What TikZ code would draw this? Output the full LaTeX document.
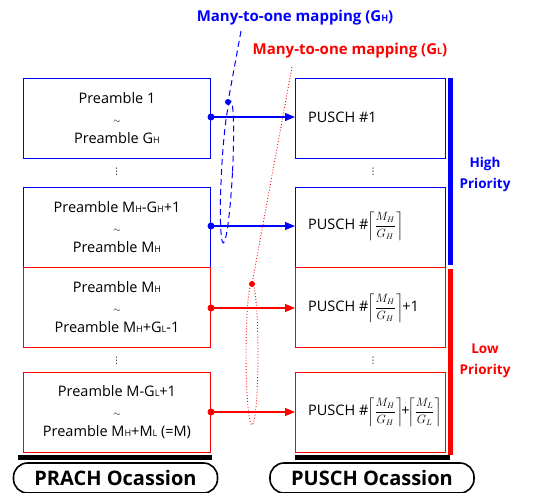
\documentclass[tikz,border=0pt]{standalone}
\usepackage{fontspec}
\setmainfont{Open Sans}
\newfontfamily\symfont{DejaVu Sans}
\usepackage{amsmath}
\usetikzlibrary{arrows.meta}
\definecolor{hiblue}{RGB}{0,0,255}
\definecolor{lored}{RGB}{255,0,0}
\newcommand{\sbs}[1]{{\fontsize{9}{9}\selectfont #1}}
\newcommand{\frc}[2]{{\fontsize{11.5}{11.5}\selectfont$\left\lceil\dfrac{#1}{#2}\right\rceil$}}
\newcommand{\vdt}{{\symfont ⋮}}
\newcommand{\tld}{{\small$\sim$}}
\begin{document}
\begin{tikzpicture}[x=1pt,y=-1pt,
  prbox/.style={draw,line width=1pt,minimum width=187pt,minimum height=80pt,anchor=north west,align=center,font=\fontsize{14.5}{20}\selectfont,inner sep=0pt},
  pubox/.style={draw,line width=1pt,minimum width=150pt,minimum height=80pt,anchor=north west,inner sep=0pt},
  putext/.style={anchor=west,font=\fontsize{14.5}{16}\selectfont,inner sep=0pt},
  vdots/.style={font=\fontsize{9}{9}\selectfont,inner sep=0pt},
  maparrow/.style={line width=1.2pt,-{Triangle[length=10pt,width=8pt]}},
  tipdot/.style={circle,fill,inner sep=0pt,minimum size=7pt},
  occ/.style={draw,line width=1.6pt,rounded corners=14pt,minimum height=30pt,font=\fontsize{20}{22}\selectfont\bfseries,inner sep=0pt},
  prio/.style={font=\fontsize{13.5}{21}\selectfont\bfseries,align=center,inner sep=0pt},
  maptitle/.style={font=\fontsize{15}{18}\selectfont\bfseries,inner sep=1pt}]
\useasboundingbox (0,0) rectangle (547,493);

% PRACH side: preamble groups
\node[prbox,hiblue] (p1) at (23,78) {\color{black}Preamble 1\\\color{black}\tld\\\color{black}Preamble G\sbs{H}};
\node[vdots] (d1) at (116.5,172) {\vdt};
\node[prbox,hiblue] (p2) at (23,187) {\color{black}Preamble M\sbs{H}-G\sbs{H}+1\\\color{black}\tld\\\color{black}Preamble M\sbs{H}};
\node[prbox,lored] (p3) at (23,267) {\color{black}Preamble M\sbs{H}\\\color{black}\tld\\\color{black}Preamble M\sbs{H}+G\sbs{L}-1};
\node[vdots] (d2) at (116.5,361) {\vdt};
\node[prbox,lored] (p4) at (23,372) {\color{black}Preamble M-G\sbs{L}+1\\\color{black}\tld\\\color{black}Preamble M\sbs{H}+M\sbs{L} (=M)};

% PUSCH side: occasions
\node[pubox,hiblue] (u1) at (295,78) {};
\node[putext] (t1) at (308,117) {PUSCH \#1};
\node[vdots] (e1) at (373,172) {\vdt};
\node[pubox,hiblue] (u2) at (295,187) {};
\node[putext] (t2) at (308,226) {PUSCH \#\kern-1pt\frc{M_H}{G_H}};
\node[pubox,lored] (u3) at (295,267) {};
\node[putext] (t3) at (308,308) {PUSCH \#\kern-1pt\frc{M_H}{G_H}\kern-1pt+1};
\node[vdots] (e2) at (373,361) {\vdt};
\node[pubox,lored] (u4) at (295,372) {};
\node[putext] (t4) at (308,412) {PUSCH \#\kern-1pt\frc{M_H}{G_H}\kern-2pt+\kern-2pt\frc{M_L}{G_L}};

% mapping arrows
\coordinate (a1) at (p1.east |- 0,117);
\coordinate (a2) at (p2.east |- 0,226);
\coordinate (a3) at (p3.east |- 0,308);
\coordinate (a4) at (p4.east |- 0,412);
\draw[maparrow,hiblue] (a1) -- (u1.west |- a1);
\draw[maparrow,hiblue] (a2) -- (u2.west |- a2);
\draw[maparrow,lored] (a3) -- (u3.west |- a3);
\draw[maparrow,lored] (a4) -- (u4.west |- a4);
\node[tipdot,hiblue] at (a1) {};
\node[tipdot,hiblue] at (a2) {};
\node[tipdot,lored] at (a3) {};
\node[tipdot,lored] at (a4) {};

% grouping ellipses with their labels
\node[maptitle,text=hiblue] (gh) at (295,18) {Many-to-one mapping (G\sbs{H})};
\node[maptitle,text=lored] (gl) at (350,51) {Many-to-one mapping (G\sbs{L})};
\coordinate (ghtop) at (241,31);
\coordinate (gldot) at (228,102);
\draw[hiblue,line width=1pt,dash pattern=on 6pt off 4pt] (ghtop) -- (gldot);
\draw[hiblue,line width=1pt,dash pattern=on 6pt off 4pt,rotate around={-3:(227,172)}] (227,172) ellipse (5.5 and 71);
\node[tipdot,hiblue,minimum size=6pt] at (gldot) {};
\coordinate (gltop) at (292,67);
\coordinate (lodot) at (252,284);
\draw[lored,line width=0.9pt,dotted] (gltop) -- (lodot);
\draw[lored,line width=0.9pt,dotted] (252,354) ellipse (6 and 71);
\node[tipdot,lored,minimum size=6pt] at (lodot) {};

% priority bars
\draw[hiblue,line width=5pt] (450,78) -- (450,265);
\draw[lored,line width=5pt] (450,269) -- (450,455);
\node[prio,text=hiblue] (hp) at (485,174) {High\\Priority};
\node[prio,text=lored] (lp) at (485,361) {Low\\Priority};

% occasion labels
\draw[line width=5pt] (18,457) -- (212,457);
\draw[line width=5pt] (295,457) -- (450,457);
\node[occ,minimum width=204pt] (po) at (115.5,478) {PRACH Ocassion};
\node[occ,minimum width=204pt] (uo) at (372,478) {PUSCH Ocassion};
\end{tikzpicture}
\end{document}
